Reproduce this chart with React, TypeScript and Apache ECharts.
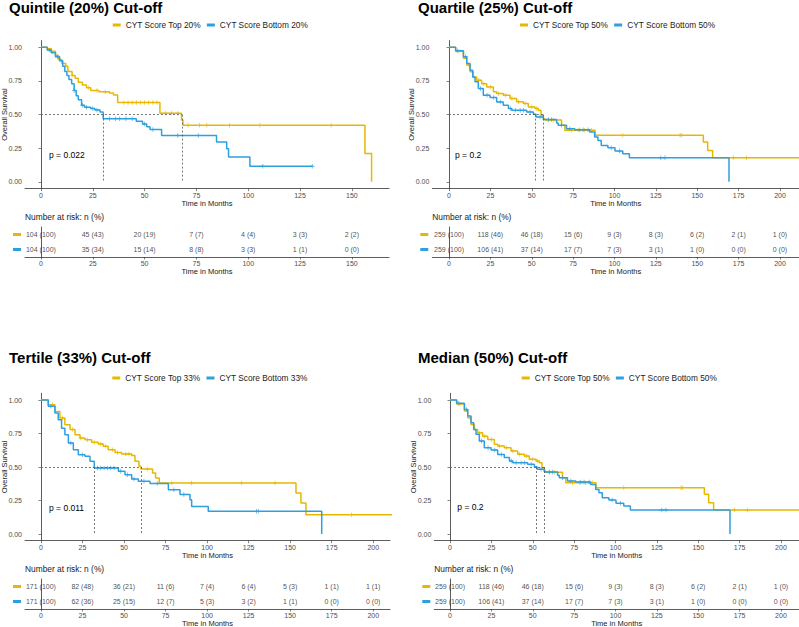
import React, { useEffect, useRef } from 'react';
import * as echarts from 'echarts';

const YELLOW = '#E7B800';
const BLUE = '#2E9FDF';
const FONT = '"Liberation Sans", Arial, sans-serif';

// ---------- Quintile (20%) ----------
const quintileTop: [number, number][] = [
  [0, 1], [3, 0.99], [5, 0.97], [7, 0.94], [8.5, 0.91], [10, 0.88], [12, 0.86], [13, 0.82], [15, 0.79],
  [16.5, 0.77], [18, 0.74], [20, 0.72], [22, 0.7], [24, 0.68], [28, 0.67], [33, 0.66], [35, 0.645],
  [37, 0.59], [57.4, 0.51], [67.8, 0.46], [68.5, 0.42], [156.3, 0.21], [159.5, 0],
];
const quintileBottom: [number, number][] = [
  [0, 1], [3, 0.98], [5, 0.96], [7, 0.93], [9, 0.9], [10.5, 0.86], [11.5, 0.82], [12.5, 0.79], [13.5, 0.76],
  [14.8, 0.73], [16, 0.68], [17, 0.64], [18, 0.61], [19.6, 0.57], [21, 0.555], [24, 0.545], [26, 0.535],
  [28.5, 0.52], [30, 0.47], [46, 0.45], [49, 0.43], [51, 0.41], [52.6, 0.39], [58.2, 0.345], [84.7, 0.296],
  [89.6, 0.246], [90.5, 0.184], [100.8, 0.116], [130.9, 0.116],
];
const quintileTopCensor = [5, 9, 15, 23, 27, 31, 40, 42, 44, 46, 48, 50, 52, 54, 56, 60, 63, 66, 71, 76.5, 80, 91, 105.6, 140];
const quintileBottomCensor = [4, 8, 16, 20, 22, 25, 27, 33, 36, 38, 41, 44, 50, 54, 66, 75.9, 107, 130.9];
const quintileMedians = [68, 30];
const quintileRiskTimes = [0, 25, 50, 75, 100, 125, 150];
const quintileRiskTop = ['104 (100)', '45 (43)', '20 (19)', '7 (7)', '4 (4)', '3 (3)', '2 (2)'];
const quintileRiskBottom = ['104 (100)', '35 (34)', '15 (14)', '8 (8)', '3 (3)', '1 (1)', '0 (0)'];

// ---------- 50% split (used for Quartile and Median panels) ----------
const halfTop: [number, number][] = [
  [0, 1], [4, 0.97], [8.7, 0.918], [10.7, 0.868], [12.7, 0.818], [14.7, 0.78], [16.7, 0.756], [19.7, 0.73],
  [22.8, 0.706], [26.8, 0.67], [28.8, 0.657], [32.8, 0.644], [36.9, 0.62], [40.9, 0.595], [44.9, 0.582],
  [47.9, 0.557], [52, 0.545], [54, 0.532], [55.6, 0.495], [57, 0.47], [58, 0.46], [68, 0.42], [70, 0.383],
  [88.2, 0.346], [153.7, 0.296], [156.3, 0.234], [159.3, 0.179], [216, 0.179],
];
const halfBottom: [number, number][] = [
  [0, 1], [4, 0.975], [8.7, 0.93], [10.7, 0.88], [12.7, 0.83], [14.3, 0.78], [15.7, 0.744], [17.7, 0.694],
  [20.7, 0.644], [24.8, 0.627], [28.8, 0.594], [32.8, 0.57], [35.9, 0.545], [37.9, 0.532], [46.9, 0.52],
  [51, 0.502], [52.6, 0.483], [57, 0.463], [65, 0.438], [66, 0.42], [71, 0.395], [76, 0.388], [85, 0.37],
  [88, 0.333], [90, 0.308], [92, 0.271], [96, 0.254], [100.3, 0.229], [105, 0.209], [109, 0.179],
  [169.2, 0.179], [169.2, 0],
];
const halfTopCensor = [6, 12, 18, 21, 25, 30, 34, 38, 42, 46, 50, 53, 60, 63, 74, 78, 82, 86, 105, 139.6, 140.6, 171.8, 179.8];
const halfBottomCensor = [5, 10, 19, 23, 27, 31, 37, 40, 43, 45, 49, 55, 60, 62, 68, 73, 79, 81, 84, 98, 103, 128, 130.5];
const halfMedians = [57, 52];
const halfRiskTimes = [0, 25, 50, 75, 100, 125, 150, 175, 200];
const halfRiskTop = ['259 (100)', '118 (46)', '46 (18)', '15 (6)', '9 (3)', '8 (3)', '6 (2)', '2 (1)', '1 (0)'];
const halfRiskBottom = ['259 (100)', '106 (41)', '37 (14)', '17 (7)', '7 (3)', '3 (1)', '1 (0)', '0 (0)', '0 (0)'];

// ---------- Tertile (33%) ----------
const tertileTop: [number, number][] = [
  [0, 1], [4.4, 0.965], [8.4, 0.915], [11.4, 0.866], [14.4, 0.816], [17.5, 0.78], [20.5, 0.741],
  [23.5, 0.716], [26.5, 0.704], [30.5, 0.684], [34.5, 0.672], [37.5, 0.654], [40.5, 0.629], [44.6, 0.609],
  [48.6, 0.597], [54.6, 0.585], [56.6, 0.542], [59, 0.505], [60.2, 0.485], [67.2, 0.455], [69, 0.418],
  [71.2, 0.38], [153.5, 0.306], [156.5, 0.231], [159.5, 0.144], [212, 0.144],
];
const tertileBottom: [number, number][] = [
  [0, 1], [4.4, 0.953], [8.4, 0.903], [10.4, 0.853], [12.4, 0.79], [14.4, 0.741], [16.5, 0.679],
  [19.5, 0.629], [22.5, 0.592], [26.5, 0.58], [29.5, 0.542], [32.1, 0.493], [46.6, 0.468], [50.6, 0.443],
  [54.6, 0.41], [58.6, 0.393], [65.6, 0.376], [76.7, 0.331], [83.7, 0.294], [89.7, 0.256], [90.7, 0.206],
  [100.7, 0.169], [169, 0.169], [169, 0],
];
const tertileTopCensor = [7, 13, 19, 24, 28, 32, 36, 39, 43, 46, 51, 53, 64, 78.7, 90.7, 120.8, 140.9, 187];
const tertileBottomCensor = [6, 18, 25, 34, 36, 38, 40, 42, 44, 48, 52, 56, 62, 70, 80, 86, 129.8, 130.8];
const tertileMedians = [60.2, 32.1];
const tertileRiskTimes = [0, 25, 50, 75, 100, 125, 150, 175, 200];
const tertileRiskTop = ['171 (100)', '82 (48)', '36 (21)', '11 (6)', '7 (4)', '6 (4)', '5 (3)', '1 (1)', '1 (1)'];
const tertileRiskBottom = ['171 (100)', '62 (36)', '25 (15)', '12 (7)', '5 (3)', '3 (2)', '1 (1)', '0 (0)', '0 (0)'];

const yTicks = [0, 0.25, 0.5, 0.75, 1];

function survAt(curve: [number, number][], t: number): number {
  let v = curve[0][1];
  for (const [x, y] of curve) {
    if (x <= t) v = y; else break;
  }
  return v;
}

const panels = [
  {
    title: 'Quintile (20%) Cut-off', pct: '20%', p: 'p = 0.022',
    top: quintileTop, bottom: quintileBottom, topC: quintileTopCensor, botC: quintileBottomCensor,
    medians: quintileMedians, riskTimes: quintileRiskTimes, riskTop: quintileRiskTop, riskBottom: quintileRiskBottom,
    L: { left: 25, width: 364, kmTop: 40.6, kmH: 148, riskTop: 227, xMin: -7.7, xMax: 167.9, titleX: 9, titleY: 7, legendLeft: 112.7, legendTop: 21, pX: 49, pY: 155, narY: 216.7 },
  },
  {
    title: 'Quartile (25%) Cut-off', pct: '50%', p: 'p = 0.2',
    top: halfTop, bottom: halfBottom, topC: halfTopCensor, botC: halfBottomCensor,
    medians: halfMedians, riskTimes: halfRiskTimes, riskTop: halfRiskTop, riskBottom: halfRiskBottom,
    L: { left: 432.3, width: 366.7, kmTop: 40.6, kmH: 148, riskTop: 227, xMin: -10.1, xMax: 211.5, titleX: 418, titleY: 7, legendLeft: 520, legendTop: 21, pX: 455, pY: 155, narY: 216.7 },
  },
  {
    title: 'Tertile (33%) Cut-off', pct: '33%', p: 'p = 0.011',
    top: tertileTop, bottom: tertileBottom, topC: tertileTopCensor, botC: tertileBottomCensor,
    medians: tertileMedians, riskTimes: tertileRiskTimes, riskTop: tertileRiskTop, riskBottom: tertileRiskBottom,
    L: { left: 25, width: 365, kmTop: 393.3, kmH: 147.4, riskTop: 579, xMin: -9.6, xMax: 210.1, titleX: 9, titleY: 357.5, legendLeft: 112.3, legendTop: 374, pX: 49, pY: 507.7, narY: 569 },
  },
  {
    title: 'Median (50%) Cut-off', pct: '50%', p: 'p = 0.2',
    top: halfTop, bottom: halfBottom, topC: halfTopCensor, botC: halfBottomCensor,
    medians: halfMedians, riskTimes: halfRiskTimes, riskTop: halfRiskTop, riskBottom: halfRiskBottom,
    L: { left: 434.3, width: 364.7, kmTop: 393.3, kmH: 147.4, riskTop: 579, xMin: -9.5, xMax: 210.9, titleX: 418, titleY: 357.5, legendLeft: 521.7, legendTop: 374, pX: 457.3, pY: 507.3, narY: 569 },
  },
];

const PLUS = 'path://M4.1,0H5.9V4.1H10V5.9H5.9V10H4.1V5.9H0V4.1H4.1Z';
const AXIS_COLOR = '#333';
const LABEL_COLOR = '#4D4D4D';
const TEXT_COLOR = '#1a1a1a';

function buildOption() {
  const grid: any[] = [];
  const xAxis: any[] = [];
  const yAxis: any[] = [];
  const series: any[] = [];
  const legend: any[] = [];
  const graphic: any[] = [];

  panels.forEach((P, i) => {
    const L = P.L;
    const kmIdx = i * 2;
    const rIdx = i * 2 + 1;
    const topName = `CYT Score Top ${P.pct}`;
    const botName = `CYT Score Bottom ${P.pct}`;
    const xTicks = P.riskTimes;

    grid.push({ left: L.left, top: L.kmTop, width: L.width, height: L.kmH, outerBoundsMode: 'none', containLabel: false });
    grid.push({ left: L.left, top: L.riskTop, width: L.width, height: 30, outerBoundsMode: 'none', containLabel: false });

    const xBase = {
      type: 'value', min: L.xMin, max: L.xMax,
      axisLine: { show: true, onZero: false, lineStyle: { color: AXIS_COLOR, width: 0.8 } },
      axisTick: { show: true, length: 2.5, customValues: xTicks, lineStyle: { color: AXIS_COLOR, width: 0.6 } },
      axisLabel: { customValues: xTicks, fontSize: 7, color: LABEL_COLOR, margin: 3, fontFamily: FONT },
      splitLine: { show: false },
      name: 'Time in Months', nameLocation: 'middle', nameGap: 9,
      nameTextStyle: { fontSize: 7.5, color: TEXT_COLOR, fontFamily: FONT },
    };
    xAxis.push({ ...xBase, gridIndex: kmIdx });
    xAxis.push({ ...xBase, gridIndex: rIdx });

    yAxis.push({
      gridIndex: kmIdx, type: 'value', min: -0.05, max: 1.05,
      axisLine: { show: true, lineStyle: { color: AXIS_COLOR, width: 0.8 } },
      axisTick: { show: true, length: 2.5, customValues: yTicks, lineStyle: { color: AXIS_COLOR, width: 0.6 } },
      axisLabel: { customValues: yTicks, fontSize: 7, color: LABEL_COLOR, margin: 3, fontFamily: FONT, formatter: (v: number) => v.toFixed(2) },
      splitLine: { show: false },
      name: 'Overall Survival', nameLocation: 'middle', nameGap: 16.5, nameRotate: 90, nameMoveOverlap: false,
      nameTextStyle: { fontSize: 7.5, color: TEXT_COLOR, fontFamily: FONT },
    });
    yAxis.push({
      gridIndex: rIdx, type: 'category', data: ['Bottom', 'Top'],
      axisLine: { show: true, lineStyle: { color: AXIS_COLOR, width: 0.8 } },
      axisTick: { show: false },
      axisLabel: {
        interval: 0,
        margin: 4,
        formatter: (v: string) => (v === 'Top' ? '{ty| }' : '{tb| }'),
        rich: {
          ty: { backgroundColor: YELLOW, width: 8, height: 3, fontSize: 1, lineHeight: 3 },
          tb: { backgroundColor: BLUE, width: 8, height: 3, fontSize: 1, lineHeight: 3 },
        },
      },
      splitLine: { show: false },
    });

    const maxMed = Math.max(...P.medians);
    series.push({
      type: 'line', name: topName, xAxisIndex: kmIdx, yAxisIndex: kmIdx, step: 'end',
      data: P.top, showSymbol: false, symbol: 'none', color: YELLOW,
      lineStyle: { color: YELLOW, width: 1.5 }, itemStyle: { color: YELLOW }, clip: true, z: 3,
      markLine: {
        silent: true, symbol: ['none', 'none'], label: { show: false },
        lineStyle: { color: '#555', width: 0.8, type: [2, 2] },
        data: [
          [{ coord: [0, 0.5] }, { coord: [maxMed, 0.5] }],
          ...P.medians.map((m) => [{ coord: [m, 0.5] }, { coord: [m, 0] }]),
        ],
      },
    });
    series.push({
      type: 'line', name: botName, xAxisIndex: kmIdx, yAxisIndex: kmIdx, step: 'end',
      data: P.bottom, showSymbol: false, symbol: 'none', color: BLUE,
      lineStyle: { color: BLUE, width: 1.5 }, itemStyle: { color: BLUE }, clip: true, z: 4,
    });
    series.push({
      type: 'scatter', name: `${topName} censor`, xAxisIndex: kmIdx, yAxisIndex: kmIdx,
      data: P.topC.map((t) => [t, survAt(P.top, t)]), symbol: PLUS, symbolSize: 4.5,
      itemStyle: { color: YELLOW }, clip: true, z: 3,
    });
    series.push({
      type: 'scatter', name: `${botName} censor`, xAxisIndex: kmIdx, yAxisIndex: kmIdx,
      data: P.botC.map((t) => [t, survAt(P.bottom, t)]), symbol: PLUS, symbolSize: 4.5,
      itemStyle: { color: BLUE }, clip: true, z: 4,
    });
    const riskLabel = {
      show: true, position: 'inside', fontSize: 7, color: TEXT_COLOR, fontFamily: FONT,
      textBorderWidth: 0, textBorderColor: 'transparent', textShadowBlur: 0,
      formatter: (p: any) => p.value[2],
    };
    series.push({
      type: 'scatter', name: `risk top ${i}`, xAxisIndex: rIdx, yAxisIndex: rIdx, symbolSize: 0,
      color: TEXT_COLOR, itemStyle: { color: TEXT_COLOR },
      data: P.riskTimes.map((t, k) => [t, 'Top', P.riskTop[k]]), label: riskLabel, silent: true,
    });
    series.push({
      type: 'scatter', name: `risk bottom ${i}`, xAxisIndex: rIdx, yAxisIndex: rIdx, symbolSize: 0,
      color: TEXT_COLOR, itemStyle: { color: TEXT_COLOR },
      data: P.riskTimes.map((t, k) => [t, 'Bottom', P.riskBottom[k]]), label: riskLabel, silent: true,
    });

    legend.push({
      data: [topName, botName], left: L.legendLeft, top: L.legendTop, padding: 0, itemGap: 6,
      itemWidth: 8, itemHeight: 3, icon: 'rect', selectedMode: false,
      textStyle: { fontSize: 8.3, color: '#222', fontFamily: FONT },
    });

    graphic.push({
      type: 'text', x: L.titleX, y: L.titleY,
      style: { text: P.title, font: `bold 15px ${FONT}`, fill: '#000', verticalAlign: 'middle', align: 'left' },
    });
    graphic.push({
      type: 'text', x: L.pX, y: L.pY,
      style: { text: P.p, font: `8.5px ${FONT}`, fill: '#000', verticalAlign: 'middle', align: 'left' },
    });
    graphic.push({
      type: 'text', x: L.left, y: L.narY,
      style: { text: 'Number at risk: n (%)', font: `8.4px ${FONT}`, fill: TEXT_COLOR, verticalAlign: 'middle', align: 'left' },
    });
  });

  return {
    animation: false,
    backgroundColor: '#fff',
    textStyle: { fontFamily: FONT },
    grid, xAxis, yAxis, series, legend, graphic,
  };
}

export default function App() {
  const ref = useRef<HTMLDivElement>(null);
  useEffect(() => {
    document.body.style.margin = '0';
    if (!ref.current) return;
    const chart = echarts.init(ref.current, null, { renderer: 'svg' });
    chart.setOption(buildOption() as any);
    return () => chart.dispose();
  }, []);
  return <div ref={ref} style={{ width: 799, height: 627 }} />;
}
